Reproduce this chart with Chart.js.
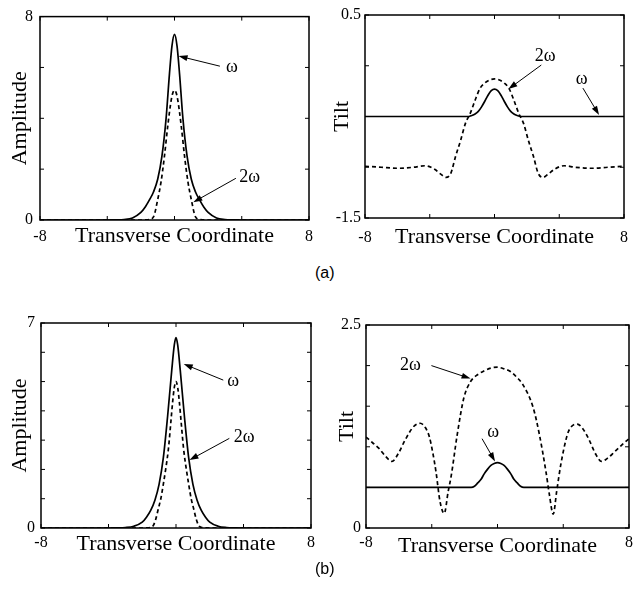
<!DOCTYPE html>
<html>
<head>
<meta charset="utf-8">
<script src="https://cdn.jsdelivr.net/npm/chart.js@4.4.1/dist/chart.umd.min.js"></script>
<style>
  body { margin: 0; background: #fff; width: 638px; height: 593px; position: relative; overflow: hidden; }
  canvas { position: absolute; }
  .tag { position: absolute; font: 16px "Liberation Sans", Arial, sans-serif; color: #000; }
</style>
</head>
<body>
<canvas id="amp-a" width="320" height="260" style="left:0;top:0"></canvas>
<canvas id="tilt-a" width="318" height="260" style="left:320px;top:0"></canvas>
<canvas id="amp-b" width="320" height="280" style="left:0;top:290px"></canvas>
<canvas id="tilt-b" width="318" height="280" style="left:320px;top:290px"></canvas>
<div class="tag" style="left:315px;top:264px">(a)</div>
<div class="tag" style="left:315px;top:560px">(b)</div>
<script>
// ---- data ----
const xRange = [-8, 8];
const xTitle = 'Transverse Coordinate';

// (a) amplitude
const xAmpA1 = [-8, -4, -3.5, -3, -2.5, -2, -1.75, -1.5, -1.25, -1, -0.75, -0.5, -0.3, -0.15, 0, 0.15, 0.3, 0.5, 0.75, 1, 1.25, 1.5, 1.75, 2, 2.5, 3, 3.5, 4, 8];
const ampA1  = [0, 0, 0.005, 0.02, 0.08, 0.3, 0.5, 0.78, 1.1, 1.6, 2.5, 4.0, 5.75, 6.85, 7.3, 6.85, 5.75, 4.0, 2.5, 1.6, 1.1, 0.78, 0.5, 0.3, 0.08, 0.02, 0.005, 0, 0];
const xAmpA2 = [-8, -2, -1.75, -1.5, -1.25, -1, -0.8, -0.6, -0.4, -0.2, -0.1, 0, 0.1, 0.2, 0.4, 0.6, 0.8, 1, 1.25, 1.5, 1.75, 2, 8];
const ampA2  = [0, 0, 0.005, 0.02, 0.12, 0.8, 1.5, 2.5, 3.7, 4.7, 5.0, 5.1, 5.0, 4.7, 3.7, 2.5, 1.5, 0.8, 0.12, 0.02, 0.005, 0, 0];

// (a) tilt
const xTiltA1 = [-8, -1.6, -1.4, -1.2, -1, -0.8, -0.6, -0.4, -0.2, 0, 0.2, 0.4, 0.6, 0.8, 1, 1.2, 1.4, 1.6, 8];
const tiltA1  = [-0.5, -0.5, -0.49, -0.475, -0.45, -0.405, -0.35, -0.29, -0.245, -0.23, -0.245, -0.29, -0.35, -0.405, -0.45, -0.475, -0.49, -0.5, -0.5];
const xTiltA2 = [-8, -7, -6, -5, -4.3, -3.7, -3.3, -3, -2.7, -2.4, -2.1, -1.8, -1.5, -1.2, -0.9, -0.6, -0.3, 0, 0.3, 0.6, 0.9, 1.2, 1.5, 1.8, 2.1, 2.4, 2.7, 3, 3.3, 3.7, 4.3, 5, 6, 7, 8];
const tiltA2  = [-0.99, -1, -1.01, -1, -0.985, -1.02, -1.07, -1.1, -1.06, -0.89, -0.74, -0.57, -0.47, -0.34, -0.225, -0.17, -0.14, -0.13, -0.14, -0.17, -0.225, -0.34, -0.47, -0.57, -0.74, -0.89, -1.06, -1.1, -1.07, -1.02, -0.985, -1, -1.01, -1, -0.99];

// (b) amplitude
const xAmpB1 = [-8, -4, -3.5, -3, -2.5, -2, -1.75, -1.5, -1.25, -1, -0.75, -0.5, -0.25, -0.1, 0, 0.1, 0.25, 0.5, 0.75, 1, 1.25, 1.5, 1.75, 2, 2.5, 3, 3.5, 4, 8];
const ampB1  = [0, 0, 0.003, 0.015, 0.06, 0.2, 0.37, 0.6, 0.95, 1.5, 2.4, 3.8, 5.4, 6.25, 6.5, 6.25, 5.4, 3.8, 2.4, 1.5, 0.95, 0.6, 0.37, 0.2, 0.06, 0.015, 0.003, 0, 0];
const xAmpB2 = [-8, -2, -1.75, -1.5, -1.35, -1.2, -1.05, -0.9, -0.75, -0.6, -0.45, -0.3, -0.2, -0.1, 0, 0.1, 0.2, 0.3, 0.45, 0.6, 0.75, 0.9, 1.05, 1.2, 1.35, 1.5, 1.75, 2, 8];
const ampB2  = [0, 0, 0.005, 0.02, 0.08, 0.3, 0.65, 1.0, 1.5, 2.05, 2.7, 3.65, 4.3, 4.8, 5.0, 4.8, 4.3, 3.65, 2.7, 2.05, 1.5, 1.0, 0.65, 0.3, 0.08, 0.02, 0.005, 0, 0];

// (b) tilt
const xTiltB1 = [-8, -1.6, -1.4, -1.2, -1, -0.8, -0.6, -0.4, -0.2, 0, 0.2, 0.4, 0.6, 0.8, 1, 1.2, 1.4, 1.6, 8];
const tiltB1  = [0.5, 0.5, 0.515, 0.555, 0.6, 0.67, 0.725, 0.77, 0.795, 0.805, 0.795, 0.77, 0.725, 0.67, 0.6, 0.555, 0.515, 0.5, 0.5];
const xTiltB2 = [-8, -7.6, -7.21, -6.8, -6.42, -6, -5.63, -5.1, -4.7, -4.4, -4.14, -3.94, -3.74, -3.5, -3.24, -3, -2.81, -2.45, -2.05, -1.65, -1.2, -0.86, -0.4, 0, 0.4, 0.76, 1.2, 1.56, 2.16, 2.55, 2.95, 3.15, 3.39, 3.6, 3.85, 4.25, 4.5, 4.85, 5.2, 5.54, 6, 6.33, 6.7, 7.13, 7.6, 8];
const tiltB2  = [1.12, 1.05, 0.98, 0.88, 0.82, 0.93, 1.08, 1.25, 1.29, 1.24, 1.12, 0.93, 0.69, 0.33, 0.18, 0.45, 0.65, 1.15, 1.6, 1.8, 1.89, 1.93, 1.97, 1.98, 1.96, 1.93, 1.85, 1.76, 1.49, 1.15, 0.69, 0.42, 0.17, 0.45, 0.78, 1.15, 1.25, 1.28, 1.22, 1.1, 0.9, 0.82, 0.86, 0.94, 1.03, 1.1];

// ---- drawing ----
const SERIF = "'Liberation Serif', 'Times New Roman', serif";

const pts = (xs, ys) => xs.map((x, i) => ({ x, y: ys[i] }));

// full box, inward ticks on all four sides, arrow notes
const framePlugin = {
  id: 'frame',
  afterDatasetsDraw(chart, args, opts) {
    const { ctx, chartArea: a, scales: { x, y } } = chart;
    ctx.save();
    ctx.strokeStyle = '#000';
    ctx.lineWidth = 1.5;
    ctx.strokeRect(a.left, a.top, a.right - a.left, a.bottom - a.top);
    ctx.lineWidth = 1;
    ctx.beginPath();
    x.ticks.forEach(t => {
      const px = x.getPixelForValue(t.value);
      ctx.moveTo(px, a.bottom); ctx.lineTo(px, a.bottom - 4);
      ctx.moveTo(px, a.top); ctx.lineTo(px, a.top + 4);
    });
    y.ticks.forEach(t => {
      const py = y.getPixelForValue(t.value);
      ctx.moveTo(a.left, py); ctx.lineTo(a.left + 4, py);
      ctx.moveTo(a.right, py); ctx.lineTo(a.right - 4, py);
    });
    ctx.stroke();

    ctx.fillStyle = '#000';
    ctx.font = '18px ' + SERIF;
    ctx.textAlign = 'center';
    ctx.textBaseline = 'middle';
    (opts.notes || []).forEach(n => {
      ctx.fillText(n.t, x.getPixelForValue(n.tx), y.getPixelForValue(n.ty));
      const x0 = x.getPixelForValue(n.ax), y0 = y.getPixelForValue(n.ay);
      const x1 = x.getPixelForValue(n.bx), y1 = y.getPixelForValue(n.by);
      const ang = Math.atan2(y1 - y0, x1 - x0);
      ctx.beginPath();
      ctx.moveTo(x0, y0); ctx.lineTo(x1 - 6 * Math.cos(ang), y1 - 6 * Math.sin(ang));
      ctx.stroke();
      ctx.beginPath();
      ctx.moveTo(x1, y1);
      ctx.lineTo(x1 - 9 * Math.cos(ang) + 3 * Math.sin(ang), y1 - 9 * Math.sin(ang) - 3 * Math.cos(ang));
      ctx.lineTo(x1 - 9 * Math.cos(ang) - 3 * Math.sin(ang), y1 - 9 * Math.sin(ang) + 3 * Math.cos(ang));
      ctx.closePath();
      ctx.fill();
    });
    ctx.restore();
  }
};

function endLabels(v, i, ticks) {
  return (i === 0 || i === ticks.length - 1) ? String(v) : '';
}

function makePanel(id, p) {
  const line = (data, dashed) => ({
    data, showLine: true, pointRadius: 0, borderColor: '#000', borderWidth: 1.7,
    borderDash: dashed ? [4, 3] : [], cubicInterpolationMode: 'monotone', fill: false
  });
  return new Chart(document.getElementById(id), {
    type: 'scatter',
    data: { datasets: [line(p.solid, false), line(p.dashed, true)] },
    options: {
      responsive: false,
      animation: false,
      events: [],
      layout: { padding: p.pad },
      plugins: { legend: { display: false }, tooltip: { enabled: false }, frame: { notes: p.notes } },
      scales: {
        x: {
          type: 'linear', min: xRange[0], max: xRange[1],
          ticks: { stepSize: 4, autoSkip: false, maxRotation: 0, padding: p.xPad, color: '#000',
                   font: { family: SERIF, size: 16 }, callback: endLabels },
          grid: { display: false, drawTicks: false },
          border: { display: false },
          title: { display: true, text: xTitle, color: '#000', font: { family: SERIF, size: 22 }, padding: 0 },
          afterFit: s => { s.height = p.xH; }
        },
        y: {
          type: 'linear', min: p.yRange[0], max: p.yRange[1],
          ticks: { stepSize: p.yStep, autoSkip: false, padding: p.yPad, color: '#000',
                   font: { family: SERIF, size: 16 }, callback: endLabels },
          grid: { display: false, drawTicks: false },
          border: { display: false },
          title: { display: true, text: p.yTitle, color: '#000', font: { family: SERIF, size: 22 },
                   padding: { top: p.yTitlePad, bottom: 0 } },
          afterFit: s => { s.width = p.yW; }
        }
      }
    },
    plugins: [framePlugin]
  });
}

makePanel('amp-a', {
  solid: pts(xAmpA1, ampA1), dashed: pts(xAmpA2, ampA2),
  yRange: [0, 8], yStep: 2, yTitle: 'Amplitude',
  pad: { left: 0, top: 15, right: 8, bottom: 11 }, yW: 40, xH: 29, xPad: 7, yPad: 7, yTitlePad: 7,
  notes: [
    { t: 'ω', tx: 3.41, ty: 6.02, ax: 2.7, ay: 6.05, bx: 0.24, by: 6.45 },
    { t: '2ω', tx: 4.47, ty: 1.68, ax: 3.65, ay: 1.64, bx: 1.12, by: 0.7 }
  ]
});

makePanel('tilt-a', {
  solid: pts(xTiltA1, tiltA1), dashed: pts(xTiltA2, tiltA2),
  yRange: [-1.5, 0.5], yStep: 0.5, yTitle: 'Tilt',
  pad: { left: 0, top: 15, right: 4, bottom: 10 }, yW: 45, xH: 32, xPad: 10, yPad: 4, yTitlePad: 9,
  notes: [
    { t: '2ω', tx: 3.13, ty: 0.096, ax: 2.89, ay: 0.007, bx: 0.86, by: -0.23 },
    { t: 'ω', tx: 5.39, ty: -0.13, ax: 5.46, ay: -0.22, bx: 6.46, by: -0.485 }
  ]
});

makePanel('amp-b', {
  solid: pts(xAmpB1, ampB1), dashed: pts(xAmpB2, ampB2),
  yRange: [0, 7], yStep: 1, yTitle: 'Amplitude',
  pad: { left: 0, top: 33, right: 8, bottom: 13 }, yW: 41, xH: 29, xPad: 5, yPad: 6, yTitlePad: 7,
  notes: [
    { t: 'ω', tx: 3.39, ty: 5.02, ax: 2.8, ay: 5.05, bx: 0.46, by: 5.6 },
    { t: '2ω', tx: 4.04, ty: 3.09, ax: 3.16, ay: 3.06, bx: 0.8, by: 2.32 }
  ]
});

makePanel('tilt-b', {
  solid: pts(xTiltB1, tiltB1), dashed: pts(xTiltB2, tiltB2),
  yRange: [0, 2.5], yStep: 0.5, yTitle: 'Tilt',
  pad: { left: 0, top: 35, right: 3, bottom: 11 }, yW: 46, xH: 31, xPad: 5, yPad: 5, yTitlePad: 14,
  notes: [
    { t: '2ω', tx: -5.3, ty: 2.0, ax: -4.02, ay: 2.0, bx: -1.64, by: 1.84 },
    { t: 'ω', tx: -0.27, ty: 1.18, ax: -0.94, ay: 1.1, bx: -0.15, by: 0.82 }
  ]
});
</script>
</body>
</html>
